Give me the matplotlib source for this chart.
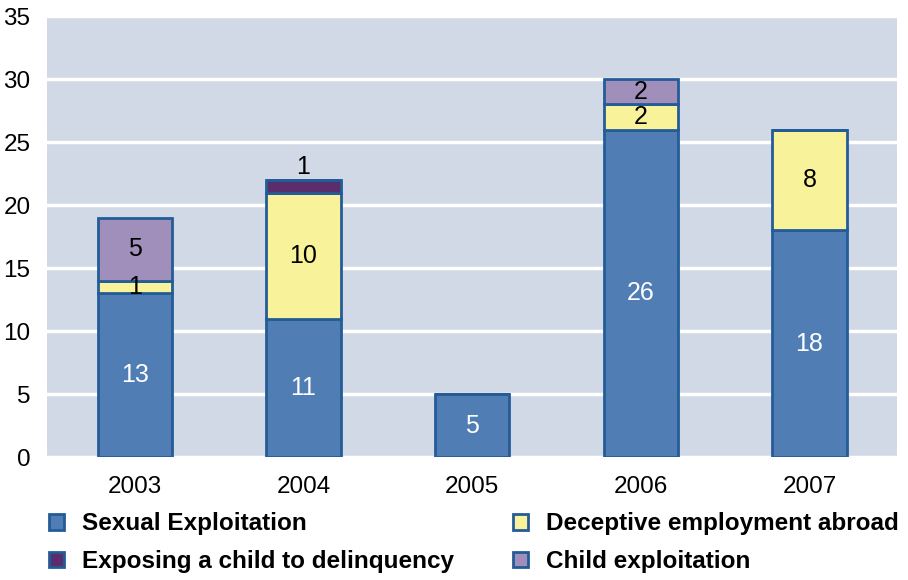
import numpy as np
import matplotlib
matplotlib.use("Agg")
import matplotlib.pyplot as plt
from matplotlib.patches import Patch

plt.rcParams["font.family"] = ["Liberation Sans", "DejaVu Sans"]

years = ["2003", "2004", "2005", "2006", "2007"]
sexual = [13, 11, 5, 26, 18]
deceptive = [1, 10, 0, 2, 8]
delinquency = [0, 1, 0, 0, 0]
child = [5, 0, 0, 2, 0]

series = [
    ("Sexual Exploitation", sexual, "#4F7DB4", "white"),
    ("Deceptive employment abroad", deceptive, "#F8F39B", "black"),
    ("Exposing a child to delinquency", delinquency, "#5A2D6D", "black"),
    ("Child exploitation", child, "#A08FBA", "black"),
]
edge = "#245C98"

fig = plt.figure(figsize=(9.08, 5.8), dpi=100)
ax = fig.add_axes([0.052, 0.212, 0.936, 0.76])
ax.set_facecolor("#D0D9E5")
x = np.arange(len(years))
bottom = np.zeros(len(years))
for name, vals, col, tcol in series:
    vals = np.array(vals, dtype=float)
    ax.bar(x, vals, 0.44, bottom=bottom, color=col, edgecolor=edge, linewidth=2, zorder=3)
    for i, v in enumerate(vals):
        if v <= 0:
            continue
        if name.startswith("Exposing"):
            # label sits above the thin segment
            ax.text(x[i], bottom[i] + v + 0.1, f"{int(v)}", ha="center", va="bottom",
                    fontsize=18, color=tcol, zorder=4)
        else:
            ax.text(x[i], bottom[i] + v / 2, f"{int(v)}", ha="center", va="center",
                    fontsize=18, color=tcol, zorder=4)
    bottom += vals

ax.set_ylim(0, 35)
ax.set_xlim(-0.52, 4.52)
ax.set_yticks(range(0, 36, 5))
ax.set_xticks(x)
ax.set_xticklabels(years)
ax.tick_params(length=0, labelsize=17.5)
ax.tick_params(axis="x", pad=14)
ax.tick_params(axis="y", pad=12)
ax.grid(axis="y", color="white", linewidth=2.5, zorder=1)
for s in ax.spines.values():
    s.set_visible(False)

handles = [Patch(facecolor=c, edgecolor=edge, linewidth=2) for _, _, c, _ in series]
labels = [n for n, _, _, _ in series]
kw = dict(frameon=False, prop={"weight": "bold", "size": 17.5}, handlelength=0.62,
          handleheight=0.62, labelspacing=0.6, handletextpad=0.75, borderpad=0,
          borderaxespad=0, loc="lower left")
fig.legend([handles[0], handles[2]], [labels[0], labels[2]],
           bbox_to_anchor=(0.054, 0.012), **kw)
fig.legend([handles[1], handles[3]], [labels[1], labels[3]],
           bbox_to_anchor=(0.565, 0.012), **kw)

fig.savefig("out.png", dpi=100)
